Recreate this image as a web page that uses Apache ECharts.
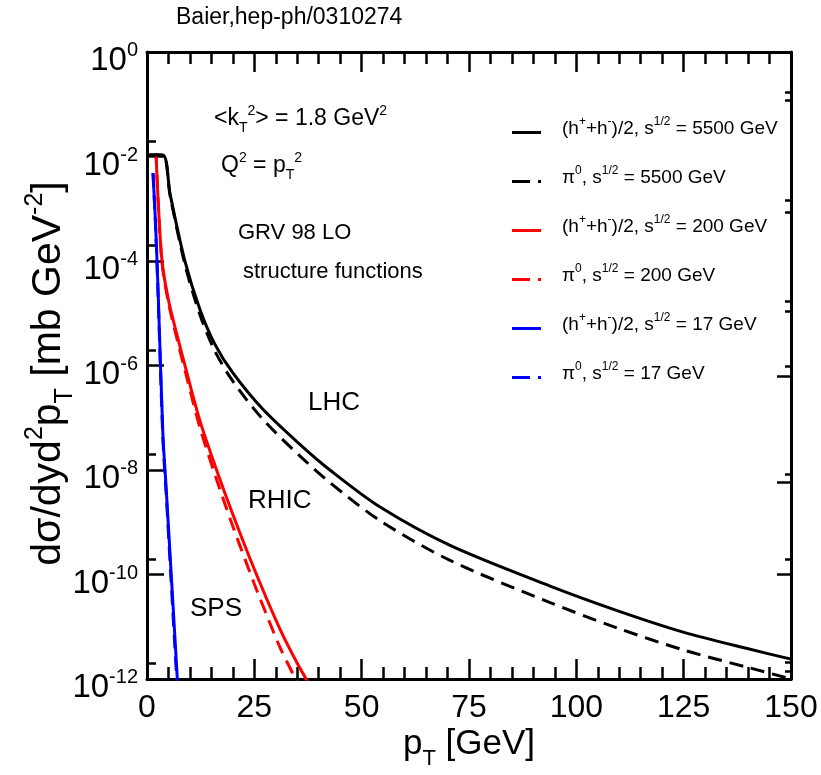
<!DOCTYPE html>
<html>
<head>
<meta charset="utf-8">
<script src="https://cdn.jsdelivr.net/npm/echarts@6/dist/echarts.min.js"></script>
<style>
  html, body { margin: 0; padding: 0; background: #fff; }
  #chart { width: 821px; height: 775px; }
</style>
</head>
<body>
<div id="chart"></div>
<script>
// ---- data: pT in GeV, d(sigma)/dy d^2pT in mb GeV^-2 ----
const lhcPt = [0.3, 3.7, 5.4, 8.85, 12.35, 15.8, 20, 27, 35.6, 42.6, 54.3, 70.6, 93.9, 109.5, 124.9, 140.5, 150];
const lhcCharged = [1.07e-2, 1.07e-2, 1.86e-3, 9.8e-5, 1.17e-5, 2.57e-6, 7.2e-7, 1.45e-7, 3.1e-8, 1.0e-8,
  1.95e-9, 3.6e-10, 6.0e-11, 2.04e-11, 7.9e-12, 3.7e-12, 2.4e-12];
const lhcPi0 = [1.07e-2, 1.07e-2, 1.74e-3, 8.5e-5, 9.3e-6, 1.9e-6, 5.0e-7, 9.3e-8, 1.86e-8, 5.75e-9,
  1.07e-9, 1.86e-10, 2.9e-11, 9.5e-12, 3.6e-12, 1.62e-12, 1.0e-12];

const rhicPt = [2.1, 2.6, 3.5, 5, 7, 9, 12.3, 16, 20, 25, 31, 35, 38.5];
const rhicCharged = [1.17e-2, 1.41e-3, 1.0e-4, 1.78e-5, 3.8e-6, 8.9e-7, 8.9e-8, 1.12e-8, 1.41e-9, 1.26e-10, 8.9e-12, 2.0e-12, 6.3e-13];
const rhicPi0Pt = [2.1, 2.6, 3.5, 5, 7, 9, 12.3, 16, 20, 25, 28, 31, 34, 36];
const rhicPi0 = [1.17e-2, 1.35e-3, 9.3e-5, 1.58e-5, 3.2e-6, 7.2e-7, 6.6e-8, 7.4e-9, 8.3e-10, 6.6e-11, 1.58e-11, 4.0e-12, 1.26e-12, 6.3e-13];

const spsPt = [1.4, 2.0, 2.6, 3.7, 4.5, 5.5, 6.5, 7.2];
const spsCharged = [4.8e-3, 5.0e-4, 2.5e-5, 5.0e-8, 4.0e-9, 1.58e-10, 6.3e-12, 6.3e-13];
const spsPi0 = [4.8e-3, 4.5e-4, 2.0e-5, 4.0e-8, 3.16e-9, 1.12e-10, 4.0e-12, 4.0e-13];

// axis ticks
const yDecades = [1e-12, 1e-10, 1e-8, 1e-6, 1e-4, 1e-2, 1];
const yLeftMinor = [2e-12, 2e-10, 2e-8, 2e-6, 2e-4, 2e-2];
const yRightShort = [1.66e-1, 1.2e-1, 1.48e-3, 8.7e-4, 1.66e-5, 1.07e-5, 9.5e-7, 8.3e-9, 1.95e-10, 2.1e-12, 1.4e-12];
const yRightLong = [6.2e-7, 5.8e-9, 1.02e-10];

// legend entries
const seriesNames = ['LHC h', 'LHC pi0', 'RHIC h', 'RHIC pi0', 'SPS h', 'SPS pi0'];
const legendLabels = {
  'LHC h':   '{f|(h}{sup|+}{n|+h}{sup|-}{n|)/2, s}{sup|1/2}{n| = 5500 GeV}',
  'LHC pi0': '{f|\u03c0}{sup|0}{n|, s}{sup|1/2}{n| = 5500 GeV}',
  'RHIC h':  '{f|(h}{sup|+}{n|+h}{sup|-}{n|)/2, s}{sup|1/2}{n| = 200 GeV}',
  'RHIC pi0':'{f|\u03c0}{sup|0}{n|, s}{sup|1/2}{n| = 200 GeV}',
  'SPS h':   '{f|(h}{sup|+}{n|+h}{sup|-}{n|)/2, s}{sup|1/2}{n| = 17 GeV}',
  'SPS pi0': '{f|\u03c0}{sup|0}{n|, s}{sup|1/2}{n| = 17 GeV}'
};
const SOLID_ICON = 'path://M0,0H29V3H0Z';
const DASH_ICON = 'path://M0,0H18V3H0Z M26,0H29V3H26Z';

const FONT = '"Liberation Sans", Arial, Helvetica, sans-serif';

// rich styles for superscript / subscript text at a given base size
function richFor(fs) {
  const s = Math.round(fs * 0.62);
  const pb = Math.round(fs * 0.22);
  return {
    n:   { fontSize: fs, fontFamily: FONT, color: '#000', verticalAlign: 'bottom', lineHeight: fs, padding: [0, 0, pb, 0] },
    f:   { fontSize: fs, fontFamily: FONT, color: '#000', verticalAlign: 'bottom', lineHeight: fs, padding: [0, 0, pb, 16] },
    sup: { fontSize: s, fontFamily: FONT, color: '#000', verticalAlign: 'bottom', lineHeight: s, padding: [0, 0, Math.round(fs * 0.72), 0] },
    sub: { fontSize: s, fontFamily: FONT, color: '#000', verticalAlign: 'bottom', lineHeight: s, padding: [0, 0, 0, 0] }
  };
}

function pairs(xs, ys) { return xs.map((x, i) => [x, ys[i]]); }

const DASH = [14, 8];

function lineSeries(name, xs, ys, color, dashed, z) {
  return {
    name: name, type: 'line', data: pairs(xs, ys),
    xAxisIndex: 0, yAxisIndex: 0,
    showSymbol: false, symbol: 'none', smooth: 0.3, z: z,
    lineStyle: { color: color, width: 3, type: dashed ? DASH : 'solid' },
    itemStyle: { color: color },
    emphasis: { disabled: true }
  };
}

const tickStyle = { color: '#000', width: 2.5 };
const frameStyle = { color: '#000', width: 3 };

const xBase = {
  type: 'value', min: 0, max: 150, interval: 25, gridIndex: 0,
  axisLine: { show: true, lineStyle: frameStyle },
  axisTick: { show: true, inside: true, length: 20, lineStyle: tickStyle },
  minorTick: { show: true, splitNumber: 5, length: 12, lineStyle: tickStyle },
  splitLine: { show: false }
};

function yLog(extra) {
  return Object.assign({
    type: 'log', logBase: 10, min: 1e-12, max: 1, gridIndex: 0,
    splitLine: { show: false }, minorTick: { show: false }, minorSplitLine: { show: false }
  }, extra);
}

const option = {
  animation: false,
  backgroundColor: '#fff',
  grid: { left: 147, top: 52, width: 644, height: 628, containLabel: false },
  xAxis: [
    Object.assign({}, xBase, {
      position: 'bottom',
      axisLabel: { show: true, margin: 13, color: '#000', fontFamily: FONT, fontSize: 32 },
      name: '{n|p}{sub|T}{n| [GeV]}', nameLocation: 'middle', nameGap: 56, nameMoveOverlap: false,
      nameTextStyle: { rich: richFor(35) }
    }),
    Object.assign({}, xBase, { position: 'top', axisLabel: { show: false } })
  ],
  yAxis: [
    yLog({
      position: 'left', splitNumber: 6,
      axisLine: { show: true, lineStyle: frameStyle },
      axisTick: { show: true, inside: true, length: 17, lineStyle: tickStyle, customValues: yDecades },
      axisLabel: {
        show: true, margin: 9, customValues: yDecades, padding: [32, 0, 0, 0],
        formatter: function (v) { return '{n|10}{sup|' + Math.round(Math.log10(v)) + '}'; },
        rich: richFor(33)
      },
      name: '{n|d\u03c3/dyd}{sup|2}{n|p}{sub|T}{n| [mb GeV}{sup|-2}{n|]}',
      nameLocation: 'middle', nameGap: 69, nameRotate: 90, nameMoveOverlap: false,
      nameTextStyle: { rich: richFor(41), padding: [0, 16, 0, 0] }
    }),
    yLog({
      position: 'left', axisLine: { show: false }, axisLabel: { show: false },
      axisTick: { show: true, inside: true, length: 9, lineStyle: tickStyle, customValues: yLeftMinor }
    }),
    yLog({
      position: 'right',
      axisLine: { show: true, lineStyle: frameStyle }, axisLabel: { show: false },
      axisTick: { show: true, inside: true, length: 6, lineStyle: tickStyle, customValues: yRightShort }
    }),
    yLog({
      position: 'right', axisLine: { show: false }, axisLabel: { show: false },
      axisTick: { show: true, inside: true, length: 14, lineStyle: tickStyle, customValues: yRightLong }
    })
  ],
  legend: {
    orient: 'vertical', left: 512, top: 116, padding: 0,
    itemWidth: 29, itemHeight: 3, itemGap: 23,
    selectedMode: false,
    data: seriesNames.map(function (n, i) { return { name: n, icon: i % 2 ? DASH_ICON : SOLID_ICON }; }),
    formatter: function (name) { return legendLabels[name]; },
    textStyle: { rich: richFor(19) }
  },
  series: [
    lineSeries('SPS pi0', spsPt, spsPi0, '#0000ff', true, 1),
    lineSeries('SPS h', spsPt, spsCharged, '#0000ff', false, 2),
    lineSeries('RHIC pi0', rhicPi0Pt, rhicPi0, '#ff0000', true, 3),
    lineSeries('RHIC h', rhicPt, rhicCharged, '#ff0000', false, 4),
    lineSeries('LHC pi0', lhcPt, lhcPi0, '#000000', true, 5),
    lineSeries('LHC h', lhcPt, lhcCharged, '#000000', false, 6)
  ],
  graphic: [
    { type: 'text', left: 176, top: 6, style: { text: 'Baier,hep-ph/0310274', font: '23px ' + FONT, fill: '#000' } },
    { type: 'text', left: 214, top: 104, style: { text: '{n|<k}{sub|T}{sup|2}{n|> = 1.8 GeV}{sup|2}', rich: richFor(23) } },
    { type: 'text', left: 221, top: 151, style: { text: '{n|Q}{sup|2}{n| = p}{sub|T}{sup|2}', rich: richFor(23) } },
    { type: 'text', left: 238, top: 222, style: { text: 'GRV 98 LO', font: '22px ' + FONT, fill: '#000' } },
    { type: 'text', left: 243, top: 261, style: { text: 'structure functions', font: '22px ' + FONT, fill: '#000' } },
    { type: 'text', left: 308, top: 390, style: { text: 'LHC', font: '26px ' + FONT, fill: '#000' } },
    { type: 'text', left: 248, top: 488, style: { text: 'RHIC', font: '26px ' + FONT, fill: '#000' } },
    { type: 'text', left: 190, top: 596, style: { text: 'SPS', font: '26px ' + FONT, fill: '#000' } }
  ]
};

const chart = echarts.init(document.getElementById('chart'), null, { renderer: 'canvas' });
chart.setOption(option);
</script>
</body>
</html>
